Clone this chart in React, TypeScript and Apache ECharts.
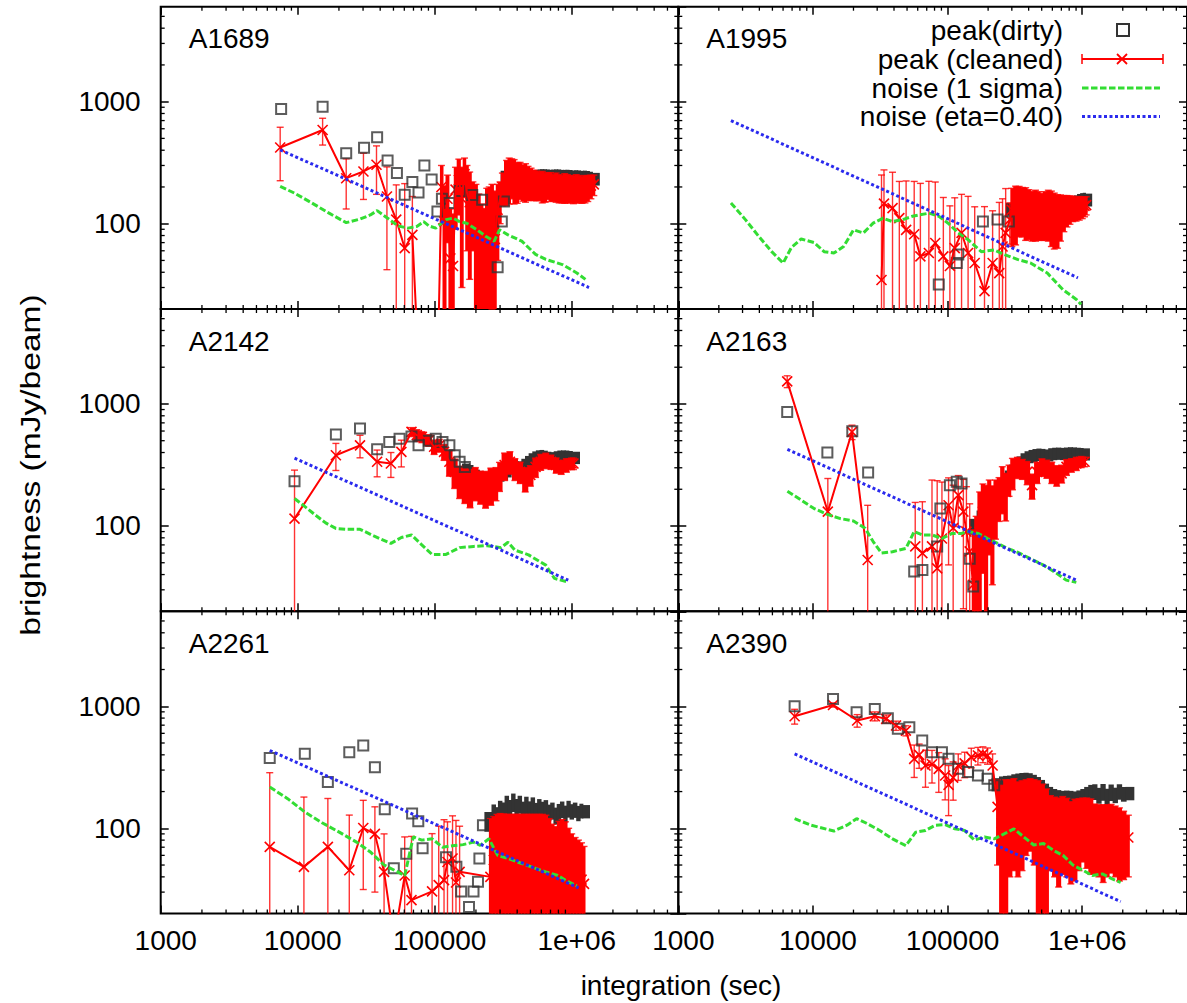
import React, { useEffect, useRef } from "react";
import * as echarts from "echarts";

// ---------------- data ----------------
const panelNames = ["A1689", "A1995", "A2142", "A2163", "A2261", "A2390"];

// A1689
const A1689_dirtyX = [7570, 15200, 22600, 30500, 38000, 45300, 53000, 60400, 68700, 76200, 84100, 95000, 104700, 112900, 128000, 152000, 188000, 222000, 288000, 309000, 320000,
  335000, 350000, 365000, 380000, 400000, 420000, 440000, 460000, 480000, 505000, 530000, 555000, 580000, 610000, 640000, 670000, 700000, 735000, 770000, 810000, 850000, 890000, 930000, 980000, 1030000, 1080000, 1130000, 1190000, 1250000, 1310000, 1380000, 1450000];
const A1689_dirtyY = [870, 910, 378, 420, 510, 330, 260, 173, 220, 180, 300, 230, 126, 160, 148, 185, 172, 157, 44, 104, 152,
  240, 245, 250, 248, 242, 244, 250, 248, 244, 240, 242, 244, 248, 250, 249, 248, 246, 247, 249, 248, 245, 246, 247, 245, 243, 245, 243, 241, 243, 240, 236, 230];
const A1689_cleanX = [7450, 15200, 22600, 30200, 37600, 44800, 52400, 60400, 68700, 74500, 90000, 106000, 112000, 118000, 124000, 130000, 136000, 142000, 150000, 158000, 165000, 172000, 180000, 190000, 200000, 210000, 220000, 230000, 240000, 250000, 262000, 275000, 288000, 300000, 312000,
  335000, 350000, 365000, 380000, 400000, 420000, 440000, 460000, 480000, 505000, 530000, 555000, 580000, 610000, 640000, 670000, 700000, 735000, 770000, 810000, 850000, 890000, 930000, 980000, 1030000, 1080000, 1130000, 1190000, 1250000, 1310000, 1380000, 1450000];
const A1689_cleanY = [421, 586, 236, 268, 304, 167, 108, 63, 81, 12, 10, 10, 200, 104, 160, 52, 45, 190, 228, 160, 255, 180, 150, 140, 110, 85, 65, 58, 75, 90, 115, 75, 130, 160, 200,
  235, 245, 250, 240, 232, 238, 228, 230, 225, 220, 215, 212, 210, 208, 205, 210, 207, 203, 205, 200, 198, 202, 200, 198, 196, 200, 198, 195, 198, 200, 205, 210];
const A1689_cleanErr = [196, 145, 104, 110, 130, 125, 100, 150, 86, 8, 5, 5, 100, 100, 90, 80, 75, 100, 110, 130, 90, 120, 115, 80, 100, 90, 80, 75, 120, 110, 95, 110, 80, 60, 60,
  95, 100, 90, 95, 85, 80, 75, 80, 70, 65, 60, 58, 55, 60, 55, 52, 55, 50, 55, 52, 50, 55, 52, 50, 50, 52, 50, 48, 50, 48, 45, 40];
const A1689_noiseX = [7450, 9480, 12670, 16940, 22600, 28500, 33900, 38000, 45300, 53800, 64100, 74000, 83100, 90700, 101800, 121000, 136000, 152000, 171000, 204000, 235000, 272000, 297000, 343000, 432000, 545000, 648000, 866000, 1090000, 1260000];
const A1689_noiseY = [202, 178, 148, 122, 102, 109, 118, 128, 111, 96, 92, 95, 104, 96, 92, 108, 111, 104, 101, 89, 79, 72, 89, 81, 72, 56, 51, 46, 39.5, 35];
const A1689_etaX = [7450, 1337000];
const A1689_etaY = [403, 30];

// A1995
const A1995_dirtyX = [86000, 117000, 120000, 183000, 235000, 285000,
  300000, 320000, 340000, 360000, 380000, 400000, 425000, 450000, 475000, 500000, 530000, 560000, 590000, 620000, 655000, 690000, 730000, 770000, 810000, 850000, 900000, 950000, 1000000, 1040000, 1070000];
const A1995_dirtyY = [31.7, 47.6, 56, 104, 108, 104,
  130, 135, 140, 142, 140, 138, 135, 136, 134, 132, 135, 138, 135, 130, 128, 132, 138, 142, 145, 148, 150, 155, 158, 160, 155];
const A1995_cleanX = [32300, 33700, 39000, 43800, 49200, 56500, 62800, 72600, 81000, 93000, 104000, 113000, 127000, 142000, 159000, 188000, 216000, 242000, 256000, 270000, 290000,
  300000, 320000, 340000, 360000, 380000, 400000, 425000, 450000, 475000, 500000, 530000, 560000, 590000, 620000, 655000, 690000, 730000, 770000, 810000, 850000, 900000, 950000, 1000000, 1040000, 1070000];
const A1995_cleanY = [34.6, 146, 134, 111, 89, 82, 54, 57.5, 69.5, 54, 45, 63, 84, 57.5, 47.6, 28, 47.6, 39.4, 65, 84, 108,
  130, 135, 140, 138, 135, 132, 128, 130, 128, 125, 128, 130, 125, 120, 118, 122, 128, 132, 134, 136, 135, 137, 138, 140, 142];
const A1995_cleanErr = [216, 130, 130, 111, 135, 140, 160, 165, 150, 110, 95, 100, 90, 110, 90, 110, 80, 110, 95, 110, 40,
  65, 68, 62, 60, 62, 58, 56, 58, 55, 52, 55, 58, 60, 58, 55, 50, 42, 38, 35, 32, 30, 30, 28, 26, 24];
const A1995_noiseX = [2460, 3150, 3950, 4940, 6010, 6900, 8180, 10200, 12100, 14300, 16900, 20000, 23700, 28000, 33200, 39000, 46400, 54800, 72600, 86000, 101000, 120000, 142000, 178000, 221000, 263000, 330000, 413000, 550000, 720000, 910000, 980000];
const A1995_noiseY = [148, 108, 79, 59, 47.6, 63.6, 75, 70, 59, 57.5, 65, 89, 84, 101, 111, 104, 108, 115, 122, 115, 101, 84, 74, 59, 61, 56, 51, 47.6, 39.4, 28.8, 23.8, 21.8];
const A1995_etaX = [2460, 929000];
const A1995_etaY = [700, 36];

// A2142
const A2142_dirtyX = [9480, 19000, 28500, 38000, 46600, 55400, 67700, 76200, 90700, 101800, 114000, 128000, 140000, 152000, 166000,
  175000, 185000, 195000, 205000, 218000, 230000, 245000, 260000, 275000, 292000, 310000, 330000, 350000, 372000, 395000, 420000, 447000, 475000, 505000, 537000, 570000, 605000, 643000, 683000, 725000, 770000, 818000, 870000, 925000, 980000, 1040000];
const A2142_dirtyY = [233, 562, 628, 425, 488, 518, 540, 458, 500, 518, 488, 458, 380, 336, 305,
  290, 275, 262, 255, 250, 248, 245, 240, 245, 255, 262, 270, 290, 305, 300, 295, 310, 325, 345, 360, 370, 375, 365, 360, 358, 362, 370, 372, 370, 365, 360];
const A2142_cleanX = [9480, 19000, 28500, 38000, 47900, 57100, 67700, 74000, 80500, 90700, 99000, 108000, 117000, 128000, 140000, 152000, 166000, 181000, 198000, 216000, 235000, 257000, 280000, 297000, 324000, 354000, 385000, 420000, 458000, 499000, 545000, 594000, 647000, 706000, 770000, 838000, 914000, 997000, 1030000];
const A2142_cleanY = [115, 380, 458, 336, 325, 405, 590, 555, 537, 505, 446, 458, 405, 336, 278, 238, 223, 216, 231, 216, 210, 223, 231, 262, 316, 336, 296, 278, 245, 262, 305, 336, 345, 336, 316, 305, 316, 325, 325];
const A2142_cleanErr = [172, 95, 96, 83, 75, 100, 50, 60, 55, 55, 60, 55, 60, 80, 75, 70, 70, 75, 70, 65, 70, 75, 70, 70, 80, 70, 60, 55, 55, 50, 55, 50, 50, 45, 45, 40, 40, 35, 35];
const A2142_noiseX = [9480, 11300, 13400, 16000, 19000, 22600, 28500, 35900, 47900, 57100, 67700, 80500, 95700, 121000, 152000, 192000, 242000, 305000, 343000, 385000, 484000, 647000, 748000, 920000];
const A2142_noiseY = [168, 144, 123.5, 106, 95.5, 94, 94, 83, 72, 80.5, 84.5, 70, 58.5, 58.5, 66.5, 68, 69, 66.5, 73.5, 63.5, 58, 47.8, 37.2, 35];
const A2142_etaX = [9480, 944000];
const A2142_etaY = [360, 36];

// A2163
const A2163_dirtyX = [6440, 12800, 19600, 25700, 56500, 65000, 83700, 88400, 104000, 117000, 127000, 146000, 155000,
  160000, 172000, 185000, 198000, 212000, 227000, 243000, 260000, 278000, 298000, 318000, 340000, 364000, 390000, 417000, 446000, 477000, 510000, 546000, 584000, 625000, 668000, 715000, 765000, 818000, 875000, 935000, 1000000, 1030000];
const A2163_dirtyY = [860, 400, 598, 275, 42.3, 43.6, 68, 139, 216, 231, 223, 54, 32,
  95, 110, 130, 140, 155, 170, 190, 215, 240, 270, 300, 320, 345, 360, 372, 378, 385, 380, 372, 385, 390, 392, 388, 390, 395, 392, 390, 388, 385];
const A2163_cleanX = [6440, 12900, 19500, 25500, 40000, 57500, 65000, 76600, 83700, 90800, 101700, 110000, 120000, 131000, 138000, 146000, 155000, 163000, 173000, 183000, 193000, 204000, 215000, 227000, 241000, 255000, 270000, 286000, 303000, 330000, 359000, 390000, 424000, 462000, 502000, 546000, 594000, 646000, 703000, 764000, 831000, 904000, 983000, 1040000];
const A2163_cleanY = [1531, 131, 590, 52.7, null, 68, 60, 68, 45, 79, 148, 96, 179, 131, 90, 62, 33, 40, 90, 131, 115, 148, 123, 158, 179, 216, 190, 245, 278, 305, 296, 278, 216, 278, 305, 296, 278, 262, 270, 305, 316, 325, 336, 336];
const A2163_cleanErr = [170, 114, 80, 95, null, 88, 98, 170, 190, 150, 100, 120, 80, 110, 120, 90, 60, 80, 100, 90, 100, 90, 90, 80, 70, 90, 80, 70, 80, 60, 55, 60, 50, 55, 50, 50, 55, 50, 45, 45, 40, 40, 35, 30];
const A2163_noiseX = [6460, 8170, 10200, 12800, 16000, 20000, 24400, 28000, 32300, 39000, 49000, 56500, 65000, 76600, 90800, 108000, 127000, 142000, 168000, 198000, 235000, 278000, 330000, 413000, 516000, 645000, 760000, 904000];
const A2163_noiseY = [193, 163, 139, 124.5, 115, 110, 96, 74.5, 60, 61.6, 65.5, 90, 84.5, 84.5, 79, 87, 87, 90, 87, 79, 72, 65.5, 61, 54, 47.8, 41, 36, 34.5];
const A2163_etaX = [6460, 904000];
const A2163_etaY = [425, 36];

// A2261
const A2261_dirtyX = [6250, 11270, 16600, 23800, 30100, 36600, 43200, 50300, 62000, 68400, 75900, 81600, 121000, 144000, 156000, 178000, 192000, 207000, 212000, 225000,
  255000, 270000, 285000, 300000, 318000, 336000, 355000, 375000, 396000, 418000, 442000, 467000, 493000, 520000, 550000, 580000, 613000, 648000, 685000, 723000, 764000, 807000, 852000, 900000, 950000, 1000000, 1060000, 1120000, 1180000, 1230000];
const A2261_dirtyY = [376, 408, 239, 420, 477, 317, 143, 47, 62, 132, 114, 68.5, 58, 48.3, 30.4, 22.6, 30.4, 36.5, 56.5, 106,
  105, 140, 118, 150, 128, 165, 135, 172, 140, 165, 132, 162, 136, 160, 130, 155, 140, 152, 128, 145, 120, 135, 148, 125, 150, 132, 145, 128, 142, 135];
const A2261_cleanX = [6250, 11100, 16600, 23800, 30100, 36600, 42700, 50500, 60400, 67700, 95700, 107000, 117000, 124000, 135000, 143000, 152000,
  255000, 270000, 285000, 300000, 318000, 336000, 355000, 375000, 396000, 418000, 442000, 467000, 493000, 520000, 550000, 580000, 613000, 648000, 685000, 723000, 764000, 807000, 852000, 900000, 950000, 1000000, 1060000, 1120000, 1180000, 1230000];
const A2261_cleanY = [70.5, 48.3, 70.5, 45.3, 100.5, 90, 44, 12, 41, 25.8, 30.4, 34.2, 37.6, 53, 56.5, 36, 44,
  40, 55, 62, 70, 65, 58, 60, 66, 70, 62, 58, 64, 68, 60, 55, 62, 66, 58, 52, 48, 45, 52, 58, 55, 50, 45, 42, 40, 38, 35];
const A2261_cleanErr = [215, 132, 105, 83, 69, 60, 46, 8, 44, 60, 60, 70, 80, 60, 70, 80, 60,
  80, 70, 68, 62, 66, 72, 70, 64, 60, 68, 72, 66, 62, 70, 75, 68, 64, 70, 68, 60, 58, 62, 60, 58, 50, 45, 42, 40, 38, 36];
const A2261_noiseX = [6250, 8440, 11270, 15040, 20100, 26900, 33900, 42700, 50800, 60400, 69800, 80700, 95700, 114000, 135000, 161000, 192000, 215000, 249000, 288000, 343000, 432000, 545000, 647000, 792000, 942000, 1090000];
const A2261_noiseY = [218, 175, 136, 111, 93, 77, 64, 50, 45.3, 41, 85, 80, 82, 70, 72, 73.5, 77, 72.5, 82, 60, 56.5, 51.5, 47, 44, 41, 36.5, 33.7];
const A2261_etaX = [6250, 1122000];
const A2261_etaY = [434, 32.5];

// A2390
const A2390_dirtyX = [7310, 14100, 21100, 28800, 36000, 42700, 52000, 64800, 76600, 90800, 101700, 120000, 142000, 168000, 198000, 222000,
  235000, 252000, 270000, 290000, 311000, 333000, 357000, 383000, 410000, 440000, 472000, 506000, 542000, 581000, 623000, 668000, 716000, 768000, 823000, 882000, 946000, 1010000, 1080000, 1160000, 1240000, 1330000, 1430000, 1530000, 1640000, 1760000, 1890000, 2030000, 2200000];
const A2390_dirtyY = [1000, 1148, 893, 951, 798, 654, 674, 524, 420, 420, 371, 307, 289, 271, 255, 225,
  225, 235, 240, 238, 245, 250, 252, 255, 250, 240, 230, 215, 200, 190, 185, 182, 180, 182, 180, 178, 180, 185, 190, 200, 205, 178, 206, 172, 204, 180, 205, 185, 195];
const A2390_cleanX = [7310, 14100, 21300, 28800, 35000, 41400, 49000, 56500, 61500, 68500, 76600, 86000, 95900, 101700, 110000, 120000, 134000, 150000, 168000, 183000, 198000, 216000,
  235000, 252000, 270000, 290000, 311000, 333000, 357000, 383000, 410000, 440000, 472000, 506000, 542000, 581000, 623000, 668000, 716000, 768000, 823000, 882000, 946000, 1010000, 1080000, 1160000, 1240000, 1330000, 1430000, 1530000, 1640000, 1760000, 1890000, 2030000, 2200000];
const A2390_cleanY = [829, 1025, 764, 829, 788, 695, 632, 371, 400, 327, 335, 307, 271, 227, 260, 327, 340, 383, 395, 405, 395, 327,
  150, 110, 130, 145, 150, 140, 145, 155, 160, 150, 120, 110, 100, 115, 110, 105, 112, 108, 100, 105, 110, 115, 112, 108, 100, 98, 96, 98, 100, 96, 92, 88, 84];
const A2390_cleanErr = [115, 40, 90, 70, 60, 60, 60, 110, 90, 110, 100, 110, 100, 100, 90, 80, 80, 70, 65, 60, 60, 80,
  100, 115, 120, 105, 105, 100, 100, 95, 95, 100, 125, 120, 110, 70, 70, 72, 70, 68, 65, 68, 65, 62, 65, 66, 58, 58, 60, 58, 57, 56, 55, 50, 44];
const A2390_noiseX = [7310, 9660, 14300, 17900, 21100, 25000, 31300, 39000, 49000, 58000, 68500, 81000, 95900, 113000, 134000, 158000, 188000, 222000, 263000, 311000, 368000, 436000, 516000, 610000, 720000, 852000, 1010000, 1190000, 1410000, 1670000, 1930000];
const A2390_noiseY = [120, 106, 95, 106, 120, 110, 96, 82, 72, 93, 96, 106, 107, 99, 96, 80, 85, 82, 90, 99, 85, 73, 75, 66, 60, 50, 45.3, 41, 42.3, 38.5, 36];
const A2390_etaX = [7310, 1930000];
const A2390_etaY = [408, 25.1];

// where each panel's samples become so dense that they merge (x, seconds)
const denseCleanFrom = [112000, 300000, 67700, 155000, 255000, 235000];
const denseDirtyFrom = [335000, 300000, 175000, 160000, 255000, 235000];

// axes
const X_MIN = 1000;
const X_MAX = 6000000;
const Y_MIN = 20;
const Y_MAX = 6000;
const xMinorTicks = [2000, 3000, 4000, 5000, 6000, 7000, 8000, 9000, 20000, 30000, 40000, 50000, 60000, 70000, 80000, 90000,
  200000, 300000, 400000, 500000, 600000, 700000, 800000, 900000, 2000000, 3000000, 4000000, 5000000];
const yMinorTicks = [30, 40, 50, 60, 70, 80, 90, 200, 300, 400, 500, 600, 700, 800, 900, 2000, 3000, 4000, 5000];

const legendLabels = ["peak(dirty)", "peak (cleaned)", "noise (1 sigma)", "noise (eta=0.40)"];
const xTitle = "integration (sec)";
const yTitle = "brightness (mJy/beam)";

// ---------------- build ----------------
const panels = [
  { name: panelNames[0], dX: A1689_dirtyX, dY: A1689_dirtyY, cX: A1689_cleanX, cY: A1689_cleanY, cE: A1689_cleanErr, nX: A1689_noiseX, nY: A1689_noiseY, eX: A1689_etaX, eY: A1689_etaY },
  { name: panelNames[1], dX: A1995_dirtyX, dY: A1995_dirtyY, cX: A1995_cleanX, cY: A1995_cleanY, cE: A1995_cleanErr, nX: A1995_noiseX, nY: A1995_noiseY, eX: A1995_etaX, eY: A1995_etaY },
  { name: panelNames[2], dX: A2142_dirtyX, dY: A2142_dirtyY, cX: A2142_cleanX, cY: A2142_cleanY, cE: A2142_cleanErr, nX: A2142_noiseX, nY: A2142_noiseY, eX: A2142_etaX, eY: A2142_etaY },
  { name: panelNames[3], dX: A2163_dirtyX, dY: A2163_dirtyY, cX: A2163_cleanX, cY: A2163_cleanY, cE: A2163_cleanErr, nX: A2163_noiseX, nY: A2163_noiseY, eX: A2163_etaX, eY: A2163_etaY },
  { name: panelNames[4], dX: A2261_dirtyX, dY: A2261_dirtyY, cX: A2261_cleanX, cY: A2261_cleanY, cE: A2261_cleanErr, nX: A2261_noiseX, nY: A2261_noiseY, eX: A2261_etaX, eY: A2261_etaY },
  { name: panelNames[5], dX: A2390_dirtyX, dY: A2390_dirtyY, cX: A2390_cleanX, cY: A2390_cleanY, cE: A2390_cleanErr, nX: A2390_noiseX, nY: A2390_noiseY, eX: A2390_etaX, eY: A2390_etaY },
];

const FONT = '"Liberation Sans", Arial, Helvetica, sans-serif';
const RED = "#ff0000";
const GREEN = "#33dd33";
const BLUE = "#2a2aee";
const DIRTY = "#333333";

const GRID_LEFT = [160.7, 678.3];
const GRID_TOP = [6.7, 309, 611.3];
const GRID_W = 517.6;
const GRID_H = 302.3;

function xLabel(v: number) {
  if (v >= 999999) return "1e+06";
  return String(Math.round(v));
}

function makeErrRender(pts: any[], denseFrom: number) {
  return function (params: any, api: any) {
    const i = params.dataIndex;
    const x = pts[i][0];
    const y = pts[i][1];
    const e = pts[i][2];
    const cs = params.coordSys;
    const top = cs.y;
    const bottom = cs.y + cs.height;
    const c = api.coord([x, y]);
    const px = c[0];
    if (px < cs.x - 0.5 || px > cs.x + cs.width + 0.5) return null;
    const hi = y + e;
    const lo = y - e;
    const children: any[] = [];
    const st = { stroke: RED, lineWidth: 1.4, opacity: 0.8 };
    const dense = x >= denseFrom;
    if (hi > Y_MIN) {
      const yHi = api.coord([x, hi])[1];
      const yLo = lo > 0 ? api.coord([x, lo])[1] : bottom + 50;
      const y1 = Math.max(top, Math.min(bottom, yHi));
      const y2 = Math.max(top, Math.min(bottom, yLo));
      if (y2 > y1) {
        if (dense) {
          const prev = pts[i - 1];
          const next = pts[i + 1];
          let l = px - 1.5;
          let r = px + 1.5;
          if (prev && prev[0] >= denseFrom) l = (px + api.coord([prev[0], y])[0]) / 2 - 0.5;
          if (next) r = (px + api.coord([next[0], y])[0]) / 2 + 0.5;
          l = Math.max(l, px - 5);
          r = Math.min(r, px + 5);
          children.push({ type: "rect", shape: { x: l, y: y1, width: r - l, height: y2 - y1 }, style: { fill: RED } });
        } else {
          children.push({ type: "line", shape: { x1: px, y1: y1, x2: px, y2: y2 }, style: st });
        }
      }
      if (yHi >= top && yHi <= bottom) children.push({ type: "line", shape: { x1: px - 3.5, y1: yHi, x2: px + 3.5, y2: yHi }, style: st });
      if (yLo >= top && yLo <= bottom) children.push({ type: "line", shape: { x1: px - 3.5, y1: yLo, x2: px + 3.5, y2: yLo }, style: st });
    }
    const py = c[1];
    if (py >= top && py <= bottom) {
      const s = 5;
      const ms = { stroke: RED, lineWidth: 1.6 };
      children.push({ type: "line", shape: { x1: px - s, y1: py - s, x2: px + s, y2: py + s }, style: ms });
      children.push({ type: "line", shape: { x1: px - s, y1: py + s, x2: px + s, y2: py - s }, style: ms });
    }
    return { type: "group", children };
  };
}

// dense run of open squares: drawn as the merged band that the overlapping squares form
function makeDirtyBandRender(pts: any[]) {
  return function (params: any, api: any) {
    const i = params.dataIndex;
    const x = pts[i][0];
    const y = pts[i][1];
    const cs = params.coordSys;
    const c = api.coord([x, y]);
    const px = c[0];
    if (px < cs.x - 6 || px > cs.x + cs.width + 6) return null;
    const prev = pts[i - 1];
    const next = pts[i + 1];
    let l = px - 6;
    let r = px + 6;
    let yMinPx = c[1];
    let yMaxPx = c[1];
    if (prev) {
      const q = api.coord([prev[0], prev[1]]);
      l = Math.max(px - 6, (px + q[0]) / 2 - 0.6);
      yMinPx = Math.min(yMinPx, (c[1] + q[1]) / 2);
      yMaxPx = Math.max(yMaxPx, (c[1] + q[1]) / 2);
    }
    if (next) {
      const q = api.coord([next[0], next[1]]);
      r = Math.min(px + 6, (px + q[0]) / 2 + 0.6);
      yMinPx = Math.min(yMinPx, (c[1] + q[1]) / 2);
      yMaxPx = Math.max(yMaxPx, (c[1] + q[1]) / 2);
    }
    const t = Math.max(cs.y, yMinPx - 6);
    const b = Math.min(cs.y + cs.height, yMaxPx + 6);
    if (b <= t) return null;
    return { type: "rect", shape: { x: l, y: t, width: r - l, height: b - t }, style: { fill: DIRTY } };
  };
}

function tickRender(params: any, api: any) {
  const cs = params.coordSys;
  const kind = api.value(2);
  const st = { stroke: "#000", lineWidth: 1.3 };
  const L = 4;
  if (kind === 0) {
    const px = api.coord([api.value(0), 100])[0];
    const b = cs.y + cs.height;
    return {
      type: "group",
      children: [
        { type: "line", shape: { x1: px, y1: b, x2: px, y2: b - L }, style: st },
        { type: "line", shape: { x1: px, y1: cs.y, x2: px, y2: cs.y + L }, style: st },
      ],
    };
  }
  const py = api.coord([10000, api.value(1)])[1];
  const r = cs.x + cs.width;
  return {
    type: "group",
    children: [
      { type: "line", shape: { x1: cs.x, y1: py, x2: cs.x + L, y2: py }, style: st },
      { type: "line", shape: { x1: r, y1: py, x2: r - L, y2: py }, style: st },
    ],
  };
}

function buildOption() {
  const grids: any[] = [];
  const xAxes: any[] = [];
  const yAxes: any[] = [];
  const series: any[] = [];
  const graphic: any[] = [];
  const minorData = xMinorTicks.map((v) => [v, 100, 0]).concat(yMinorTicks.map((v) => [10000, v, 1]));

  panels.forEach((p, g) => {
    const col = g % 2;
    const row = Math.floor(g / 2);
    const bottomRow = row === 2;
    const leftCol = col === 0;
    grids.push({
      left: GRID_LEFT[col], top: GRID_TOP[row], width: GRID_W, height: GRID_H,
      show: true, borderColor: "#000", borderWidth: 2, backgroundColor: "transparent",
    });
    const tick = { show: true, inside: true, length: 8, lineStyle: { color: "#000", width: 1.5 } };
    xAxes.push({
      type: "log", logBase: 10, gridIndex: g, position: "bottom", min: X_MIN, max: X_MAX,
      axisLine: { show: false }, splitLine: { show: false }, axisTick: tick,
      axisLabel: {
        show: bottomRow, margin: 13, fontSize: 28, fontFamily: FONT, color: "#000",
        formatter: xLabel, showMinLabel: true, showMaxLabel: false, interval: 0, padding: [0, 0, 0, 10],
      },
    });
    xAxes.push({
      type: "log", logBase: 10, gridIndex: g, position: "top", min: X_MIN, max: X_MAX,
      axisLine: { show: false }, splitLine: { show: false }, axisTick: tick, axisLabel: { show: false },
    });
    yAxes.push({
      type: "log", logBase: 10, gridIndex: g, position: "left", min: Y_MIN, max: Y_MAX,
      axisLine: { show: false }, splitLine: { show: false }, axisTick: tick,
      axisLabel: {
        show: leftCol, margin: 20, fontSize: 28, fontFamily: FONT, color: "#000",
        formatter: (v: number) => String(Math.round(v)), showMinLabel: false, showMaxLabel: false,
      },
    });
    yAxes.push({
      type: "log", logBase: 10, gridIndex: g, position: "right", min: Y_MIN, max: Y_MAX,
      axisLine: { show: false }, splitLine: { show: false }, axisTick: tick, axisLabel: { show: false },
    });

    const xi = 2 * g;
    const yi = 2 * g;
    const dirtyAll = p.dX.map((x, i) => [x, p.dY[i]]);
    const dirtySparse = dirtyAll.filter((d) => d[0] < denseDirtyFrom[g]);
    const dirtyDense = dirtyAll.filter((d) => d[0] >= denseDirtyFrom[g]);
    series.push({
      type: "scatter", xAxisIndex: xi, yAxisIndex: yi, silent: true, clip: true,
      data: dirtySparse, symbol: "rect", symbolSize: 10,
      itemStyle: { color: "rgba(0,0,0,0)", borderColor: DIRTY, borderWidth: 2 },
    });
    series.push({
      type: "custom", xAxisIndex: xi, yAxisIndex: yi, silent: true,
      data: dirtyDense, renderItem: makeDirtyBandRender(dirtyDense),
    });
    series.push({
      type: "line", xAxisIndex: xi, yAxisIndex: yi, silent: true, clip: true,
      data: p.cX.map((x, i) => [x, p.cY[i] == null ? "-" : p.cY[i]]),
      symbol: "none", connectNulls: false,
      lineStyle: { color: RED, width: 2 },
    });
    const errPts = p.cX.map((x, i) => [x, p.cY[i], p.cE[i]]).filter((d) => d[1] != null);
    series.push({
      type: "custom", xAxisIndex: xi, yAxisIndex: yi, silent: true,
      data: errPts, renderItem: makeErrRender(errPts, denseCleanFrom[g]),
    });
    series.push({
      type: "line", xAxisIndex: xi, yAxisIndex: yi, silent: true, clip: true,
      data: p.nX.map((x, i) => [x, p.nY[i]]), symbol: "none",
      lineStyle: { color: GREEN, width: 3, type: [6.5, 2.5] },
    });
    series.push({
      type: "line", xAxisIndex: xi, yAxisIndex: yi, silent: true, clip: true,
      data: p.eX.map((x, i) => [x, p.eY[i]]), symbol: "none",
      lineStyle: { color: BLUE, width: 3, type: [3, 2.5] },
    });
    series.push({
      type: "custom", xAxisIndex: xi, yAxisIndex: yi, silent: true,
      data: minorData, renderItem: tickRender,
    });

    graphic.push({
      type: "text", x: GRID_LEFT[col] + 28, y: GRID_TOP[row] + 32, silent: true,
      style: { text: p.name, font: `28px ${FONT}`, fill: "#000", align: "left", verticalAlign: "middle", textAlign: "left", textVerticalAlign: "middle" },
    });
  });

  // axis titles
  graphic.push({
    type: "text", x: 30, y: 465, rotation: Math.PI / 2, scaleX: 1.2, silent: true,
    style: { text: yTitle, font: `28px ${FONT}`, fill: "#000", align: "center", verticalAlign: "middle", textAlign: "center", textVerticalAlign: "middle" },
  });
  graphic.push({
    type: "text", x: 681, y: 985, silent: true,
    style: { text: xTitle, font: `28px ${FONT}`, fill: "#000", align: "center", verticalAlign: "middle", textAlign: "center", textVerticalAlign: "middle" },
  });

  // legend
  const rows = [30, 59, 88, 116.5];
  legendLabels.forEach((t, i) => {
    graphic.push({
      type: "text", x: 1063, y: rows[i], silent: true,
      style: { text: t, font: `28px ${FONT}`, fill: "#000", align: "right", verticalAlign: "middle", textAlign: "right", textVerticalAlign: "middle" },
    });
  });
  graphic.push({ type: "rect", shape: { x: 1117, y: rows[0] - 6, width: 12, height: 12 }, style: { fill: "none", stroke: DIRTY, lineWidth: 2 }, silent: true });
  graphic.push({ type: "line", shape: { x1: 1082, y1: rows[1], x2: 1163, y2: rows[1] }, style: { stroke: RED, lineWidth: 2 }, silent: true });
  graphic.push({ type: "line", shape: { x1: 1082, y1: rows[1] - 5, x2: 1082, y2: rows[1] + 5 }, style: { stroke: RED, lineWidth: 1.5 }, silent: true });
  graphic.push({ type: "line", shape: { x1: 1163, y1: rows[1] - 5, x2: 1163, y2: rows[1] + 5 }, style: { stroke: RED, lineWidth: 1.5 }, silent: true });
  graphic.push({ type: "line", shape: { x1: 1117, y1: rows[1] - 5, x2: 1127, y2: rows[1] + 5 }, style: { stroke: RED, lineWidth: 1.8 }, silent: true });
  graphic.push({ type: "line", shape: { x1: 1117, y1: rows[1] + 5, x2: 1127, y2: rows[1] - 5 }, style: { stroke: RED, lineWidth: 1.8 }, silent: true });
  graphic.push({ type: "line", shape: { x1: 1082, y1: rows[2], x2: 1160, y2: rows[2] }, style: { stroke: GREEN, lineWidth: 3, lineDash: [6.5, 2.5] }, silent: true });
  graphic.push({ type: "line", shape: { x1: 1082, y1: rows[3], x2: 1160, y2: rows[3] }, style: { stroke: BLUE, lineWidth: 3, lineDash: [3, 2.5] }, silent: true });

  return {
    animation: false,
    backgroundColor: "#ffffff",
    grid: grids,
    xAxis: xAxes,
    yAxis: yAxes,
    series,
    graphic,
  };
}

export default function App() {
  const ref = useRef<HTMLDivElement>(null);
  useEffect(() => {
    if (!ref.current) return;
    const chart = echarts.init(ref.current, null, { renderer: "svg" });
    chart.setOption(buildOption() as any);
    return () => chart.dispose();
  }, []);
  return (
    <div
      ref={ref}
      style={{ position: "absolute", left: 0, top: 0, width: "1187px", height: "1003px", background: "#fff" }}
    />
  );
}
